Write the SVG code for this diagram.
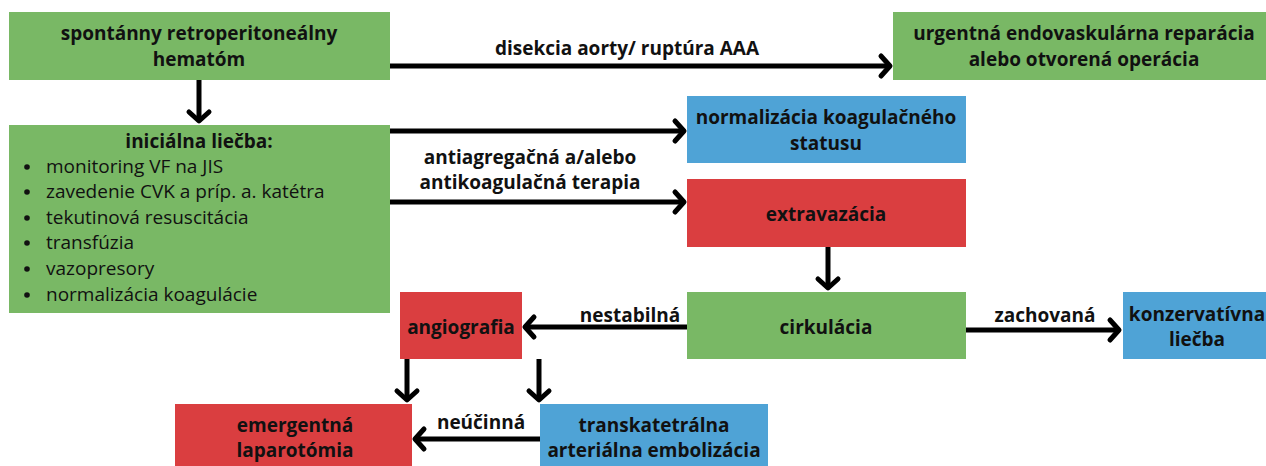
<svg xmlns="http://www.w3.org/2000/svg" width="1266" height="466" viewBox="0 0 1266 466">
<style>
.g{fill:#79b865}.b{fill:#4fa3d6}.r{fill:#da3e40}
text{font-family:"Open Sans","Liberation Sans",sans-serif;font-size:19px;fill:#111}
.t{font-weight:bold;text-anchor:middle}
.l{font-weight:bold;text-anchor:middle}
.c{stroke:#000;stroke-width:5;fill:none;marker-end:url(#ah)}
</style>
<defs>
<marker id="ah" markerUnits="userSpaceOnUse" markerWidth="30" markerHeight="30" viewBox="-15 -15 30 30" refX="0" refY="0" orient="auto">
<path d="M-9,-10 L0,0 L-9,10" fill="none" stroke="#000" stroke-width="5" stroke-linecap="round" stroke-linejoin="round"/>
</marker>
</defs>
<rect width="1266" height="466" fill="#fff"/>
<g id="n1"><rect class="g" x="9" y="12" width="381" height="68"/>
<text class="t" x="199" y="40">spontánny retroperitoneálny</text><text class="t" x="199" y="66">hematóm</text></g>
<g id="n2"><rect class="g" x="893" y="12" width="373" height="68"/>
<text class="t" x="1084" y="40">urgentná endovaskulárna reparácia</text><text class="t" x="1084" y="66">alebo otvorená operácia</text></g>
<g id="n3"><rect class="g" x="9" y="125" width="381" height="188"/>
<text class="t" x="199" y="148">iniciálna liečba:</text>
<g fill="#111"><circle cx="27" cy="167" r="2.8"/><circle cx="27" cy="192" r="2.8"/><circle cx="27" cy="218" r="2.8"/><circle cx="27" cy="243" r="2.8"/><circle cx="27" cy="269" r="2.8"/><circle cx="27" cy="295" r="2.8"/></g>
<text x="46" y="173">monitoring VF na JIS</text>
<text x="46" y="198">zavedenie CVK a príp. a. katétra</text>
<text x="46" y="224">tekutinová resuscitácia</text>
<text x="46" y="249">transfúzia</text>
<text x="46" y="275">vazopresory</text>
<text x="46" y="301">normalizácia koagulácie</text></g>
<g id="n4"><rect class="b" x="687" y="96" width="279" height="67"/>
<text class="t" x="826" y="124">normalizácia koagulačného</text><text class="t" x="826" y="150">statusu</text></g>
<g id="n5"><rect class="r" x="687" y="179" width="279" height="68"/>
<text class="t" x="826" y="221">extravazácia</text></g>
<g id="n6"><rect class="g" x="687" y="292" width="279" height="67"/>
<text class="t" x="826" y="334">cirkulácia</text></g>
<g id="n7"><rect class="r" x="400" y="292" width="122" height="67"/>
<text class="t" x="461" y="334">angiografia</text></g>
<g id="n8"><rect class="b" x="1123" y="292" width="143" height="67"/>
<text class="t" x="1197" y="321">konzervatívna</text><text class="t" x="1197" y="346">liečba</text></g>
<g id="n9"><rect class="r" x="175" y="404" width="237" height="62"/>
<text class="t" x="295" y="432">emergentná</text><text class="t" x="295" y="457">laparotómia</text></g>
<g id="n10"><rect class="b" x="540" y="404" width="228" height="62"/>
<text class="t" x="654" y="432">transkatetrálna</text><text class="t" x="654" y="457">arteriálna embolizácia</text></g>
<g id="connectors">
<path class="c" d="M390,66 H890"/>
<path class="c" d="M199,80 V121"/>
<path class="c" d="M390,131 H684"/>
<path class="c" d="M390,202 H684"/>
<path class="c" d="M828,247 V288"/>
<path class="c" d="M687,327 H525"/>
<path class="c" d="M966,330 H1119"/>
<path class="c" d="M407,359 V400"/>
<path class="c" d="M539,359 V400"/>
<path class="c" d="M540,439 H415"/>
<text class="l" x="627" y="55">disekcia aorty/ ruptúra AAA</text>
<text class="l" x="530" y="164">antiagregačná a/alebo</text>
<text class="l" x="530" y="189">antikoagulačná terapia</text>
<text class="l" x="630" y="322">nestabilná</text>
<text class="l" x="1045" y="322">zachovaná</text>
<text class="l" x="481" y="429">neúčinná</text>
</g>
</svg>
